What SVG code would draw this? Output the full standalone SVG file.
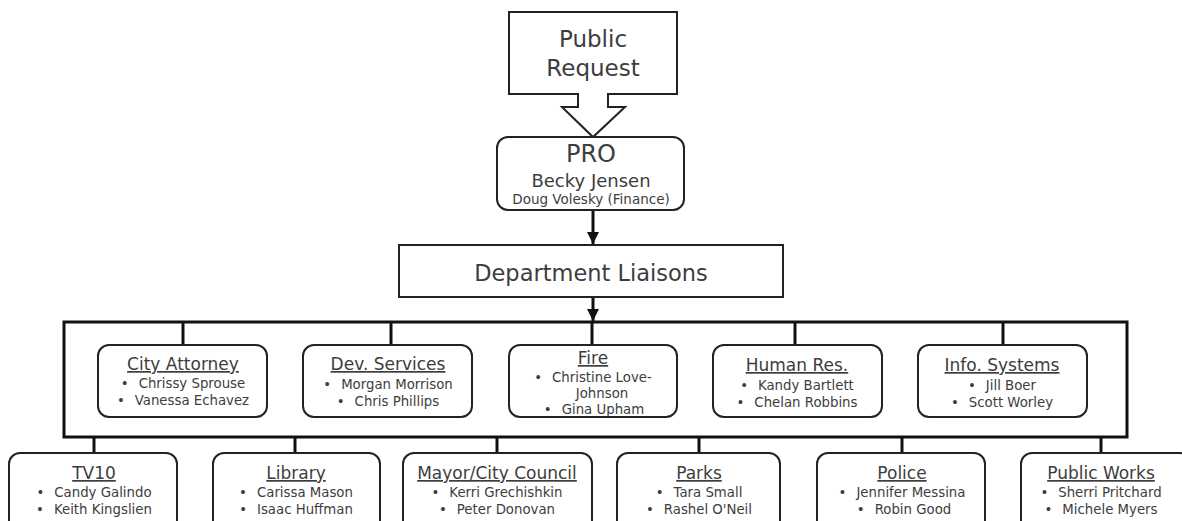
<svg xmlns="http://www.w3.org/2000/svg" width="1182" height="521" viewBox="0 0 1182 521">
<style>
text{font-family:"DejaVu Sans","Liberation Sans",sans-serif;fill:#3d3d3d;text-anchor:middle}
.box{fill:#fff;stroke:#222;stroke-width:2}
.t{font-size:17px;text-decoration:underline}
.b{font-size:13.3px}
.ln{stroke:#111;stroke-width:3;fill:none}
</style>
<defs>
<marker id="ah" viewBox="0 0 10 10" refX="10" refY="5" markerWidth="4" markerHeight="4.4" orient="auto" markerUnits="strokeWidth">
<path d="M0,0 L10,5 L0,10 Z" fill="#111"/>
</marker>
</defs>
<rect width="1182" height="521" fill="#fff"/>
<g id="connectors">
<line class="ln" x1="593" y1="210" x2="593" y2="244" stroke-width="2.5" marker-end="url(#ah)"/>
<line class="ln" x1="593" y1="297" x2="593" y2="321" stroke-width="2.5" marker-end="url(#ah)"/>
<rect class="ln" x="64" y="322" width="1063" height="115"/>
<line class="ln" x1="183" y1="322" x2="183" y2="345"/>
<line class="ln" x1="391" y1="322" x2="391" y2="345"/>
<line class="ln" x1="592" y1="322" x2="592" y2="345"/>
<line class="ln" x1="795" y1="322" x2="795" y2="345"/>
<line class="ln" x1="1003" y1="322" x2="1003" y2="345"/>
<line class="ln" x1="94" y1="437" x2="94" y2="453"/>
<line class="ln" x1="295" y1="437" x2="295" y2="453"/>
<line class="ln" x1="497" y1="437" x2="497" y2="453"/>
<line class="ln" x1="699" y1="437" x2="699" y2="453"/>
<line class="ln" x1="902" y1="437" x2="902" y2="453"/>
<line class="ln" x1="1101" y1="437" x2="1101" y2="453"/>
</g>
<g id="public-request">
<path class="box" d="M509,12 H677 V94 H608 V107 H625 L593,137 L562,107 H578 V94 H509 Z"/>
<text x="593" y="47" font-size="23">Public</text>
<text x="593" y="76" font-size="23">Request</text>
</g>
<g id="pro">
<rect class="box" x="497" y="137" width="187" height="73" rx="11"/>
<text x="591" y="162" font-size="24">PRO</text>
<text x="591" y="187" font-size="18">Becky Jensen</text>
<text x="591" y="204" font-size="13.5">Doug Volesky (Finance)</text>
</g>
<g id="department-liaisons">
<rect class="box" x="399" y="245" width="384" height="52"/>
<text x="591" y="281" font-size="22.5">Department Liaisons</text>
</g>
<g id="city-attorney">
<rect class="box" x="98" y="345" width="169" height="72" rx="11"/>
<text class="t" x="183" y="370">City Attorney</text>
<text class="b" x="183" y="388">•<tspan dx="10">Chrissy Sprouse</tspan></text>
<text class="b" x="183" y="405">•<tspan dx="10">Vanessa Echavez</tspan></text>
</g>
<g id="dev-services">
<rect class="box" x="303" y="345" width="169" height="72" rx="11"/>
<text class="t" x="388" y="370">Dev. Services</text>
<text class="b" x="388" y="389">•<tspan dx="10">Morgan Morrison</tspan></text>
<text class="b" x="388" y="406">•<tspan dx="10">Chris Phillips</tspan></text>
</g>
<g id="fire">
<rect class="box" x="509" y="345" width="168" height="72" rx="11"/>
<text class="t" x="593" y="364">Fire</text>
<text class="b" x="593" y="382">•<tspan dx="10">Christine Love-</tspan></text>
<text class="b" x="602" y="398">Johnson</text>
<text class="b" x="594" y="414">•<tspan dx="10">Gina Upham</tspan></text>
</g>
<g id="human-res">
<rect class="box" x="713" y="345" width="169" height="72" rx="11"/>
<text class="t" x="797" y="371">Human Res.</text>
<text class="b" x="797" y="390">•<tspan dx="10">Kandy Bartlett</tspan></text>
<text class="b" x="797" y="407">•<tspan dx="10">Chelan Robbins</tspan></text>
</g>
<g id="info-systems">
<rect class="box" x="918" y="345" width="169" height="72" rx="11"/>
<text class="t" x="1002" y="371">Info. Systems</text>
<text class="b" x="1002" y="390">•<tspan dx="10">Jill Boer</tspan></text>
<text class="b" x="1002" y="407">•<tspan dx="10">Scott Worley</tspan></text>
</g>
<g id="tv10">
<rect class="box" x="9" y="453" width="168" height="90" rx="11"/>
<text class="t" x="94" y="479">TV10</text>
<text class="b" x="94" y="497">•<tspan dx="10">Candy Galindo</tspan></text>
<text class="b" x="94" y="514">•<tspan dx="10">Keith Kingslien</tspan></text>
</g>
<g id="library">
<rect class="box" x="213" y="453" width="167" height="90" rx="11"/>
<text class="t" x="296" y="479">Library</text>
<text class="b" x="296" y="497">•<tspan dx="10">Carissa Mason</tspan></text>
<text class="b" x="296" y="514">•<tspan dx="10">Isaac Huffman</tspan></text>
</g>
<g id="mayor-city-council">
<rect class="box" x="403" y="453" width="189" height="90" rx="11"/>
<text class="t" x="497" y="479" font-size="16">Mayor/City Council</text>
<text class="b" x="497" y="497">•<tspan dx="10">Kerri Grechishkin</tspan></text>
<text class="b" x="497" y="514">•<tspan dx="10">Peter Donovan</tspan></text>
</g>
<g id="parks">
<rect class="box" x="617" y="453" width="163" height="90" rx="11"/>
<text class="t" x="699" y="479">Parks</text>
<text class="b" x="699" y="497">•<tspan dx="10">Tara Small</tspan></text>
<text class="b" x="699" y="514">•<tspan dx="10">Rashel O'Neil</tspan></text>
</g>
<g id="police">
<rect class="box" x="817" y="453" width="168" height="90" rx="11"/>
<text class="t" x="902" y="479">Police</text>
<text class="b" x="902" y="497">•<tspan dx="10">Jennifer Messina</tspan></text>
<text class="b" x="904" y="514">•<tspan dx="10">Robin Good</tspan></text>
</g>
<g id="public-works">
<rect class="box" x="1021" y="453" width="170" height="90" rx="11"/>
<text class="t" x="1101" y="479">Public Works</text>
<text class="b" x="1101" y="497">•<tspan dx="10">Sherri Pritchard</tspan></text>
<text class="b" x="1101" y="514">•<tspan dx="10">Michele Myers</tspan></text>
</g>
</svg>
